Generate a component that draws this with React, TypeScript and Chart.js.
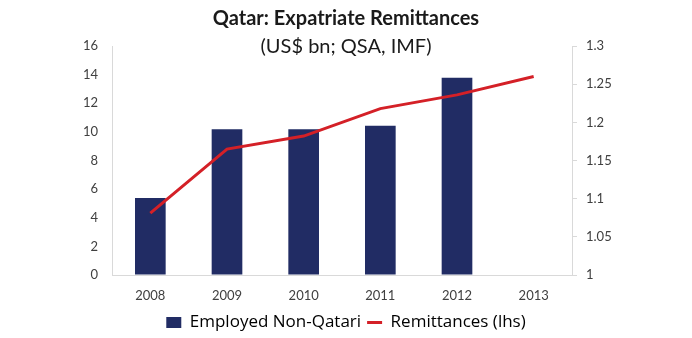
import React, { useEffect, useRef } from 'react';
import { Chart, registerables } from 'chart.js';

Chart.register(...registerables);

const years = ['2008', '2009', '2010', '2011', '2012', '2013'];
const employedNonQatari: (number | null)[] = [5.38, 10.18, 10.18, 10.43, 13.78, null];
const remittances = [1.081, 1.165, 1.182, 1.218, 1.236, 1.26];
const titleText = 'Qatar: Expatriate Remittances';
const subtitleText = '(US$ bn; QSA, IMF)';
const seriesNames = ['Employed Non-Qatari', 'Remittances (lhs)'];

const NAVY = '#212c64';
const RED = '#d42027';
const AXIS = '#d9d9d9';
const TEXT = '#404040';
const FONT = 'Lato, "Open Sans", sans-serif';
const LEGEND_FONT = '"Open Sans", Lato, sans-serif';

export default function App() {
  const ref = useRef<HTMLCanvasElement | null>(null);

  useEffect(() => {
    document.body.style.margin = '0';
    const canvas = ref.current;
    if (!canvas) return;
    const chart = new Chart(canvas, {
      type: 'bar',
      data: {
        labels: years,
        datasets: [
          {
            type: 'bar',
            label: seriesNames[0],
            data: employedNonQatari,
            backgroundColor: NAVY,
            yAxisID: 'y',
            barPercentage: 0.4,
            categoryPercentage: 1,
            order: 1,
          },
          {
            type: 'line',
            label: seriesNames[1],
            data: remittances,
            borderColor: RED,
            backgroundColor: RED,
            borderWidth: 3,
            pointRadius: 0,
            tension: 0,
            yAxisID: 'y1',
            order: 0,
          },
        ],
      },
      options: {
        animation: false,
        responsive: false,
        maintainAspectRatio: false,
        layout: { padding: { top: 46, left: 0, right: 0, bottom: -3 } },
        plugins: {
          tooltip: { enabled: false },
          title: { display: false },
          legend: {
            position: 'bottom',
            labels: {
              usePointStyle: true,
              pointStyleWidth: 15,
              boxHeight: 11,
              padding: 6,
              color: '#262626',
              font: { family: LEGEND_FONT, size: 17 },
              generateLabels: () => [
                {
                  text: seriesNames[0],
                  fillStyle: NAVY,
                  strokeStyle: NAVY,
                  lineWidth: 0,
                  pointStyle: 'rect',
                  hidden: false,
                  datasetIndex: 0,
                },
                {
                  text: seriesNames[1],
                  fillStyle: RED,
                  strokeStyle: RED,
                  lineWidth: 3,
                  pointStyle: 'line',
                  hidden: false,
                  datasetIndex: 1,
                },
              ],
            },
          },
        },
        scales: {
          x: {
            offset: true,
            grid: { display: false, drawTicks: false },
            border: { display: true, color: AXIS, width: 1 },
            ticks: { color: TEXT, padding: 13, font: { family: FONT, size: 13 } },
            afterFit: (s: any) => { s.height = 33; },
          },
          y: {
            position: 'left',
            min: 0,
            max: 16,
            ticks: { stepSize: 2, color: TEXT, padding: 14, font: { family: FONT, size: 13 } },
            grid: { drawOnChartArea: false, drawTicks: false },
            border: { display: true, color: AXIS, width: 1 },
            afterFit: (s: any) => { s.width = 112; },
          },
          y1: {
            position: 'right',
            min: 1,
            max: 1.3,
            ticks: {
              stepSize: 0.05,
              color: TEXT,
              padding: 9,
              font: { family: FONT, size: 13 },
              callback: (v: any) => String(Number(Number(v).toFixed(2))),
            },
            grid: { drawOnChartArea: false, drawTicks: true, tickLength: 5, color: AXIS },
            border: { display: true, color: AXIS, width: 1 },
            afterFit: (s: any) => { s.width = 120; },
          },
        },
      },
    });
    return () => chart.destroy();
  }, []);

  return (
    <div style={{ position: 'relative', width: 692, height: 338, background: '#fff' }}>
      <canvas ref={ref} width={692} height={338} style={{ display: 'block' }} />
      <div
        style={{
          position: 'absolute', left: 0, width: 692, top: 5, textAlign: 'center',
          fontFamily: FONT, fontWeight: 700, fontSize: 20, lineHeight: '24px', color: '#1a1a1a',
        }}
      >
        {titleText}
      </div>
      <div
        style={{
          position: 'absolute', left: 0, width: 692, top: 33, textAlign: 'center',
          fontFamily: FONT, fontWeight: 400, fontSize: 20, lineHeight: '24px', color: '#1a1a1a',
        }}
      >
        {subtitleText}
      </div>
    </div>
  );
}
